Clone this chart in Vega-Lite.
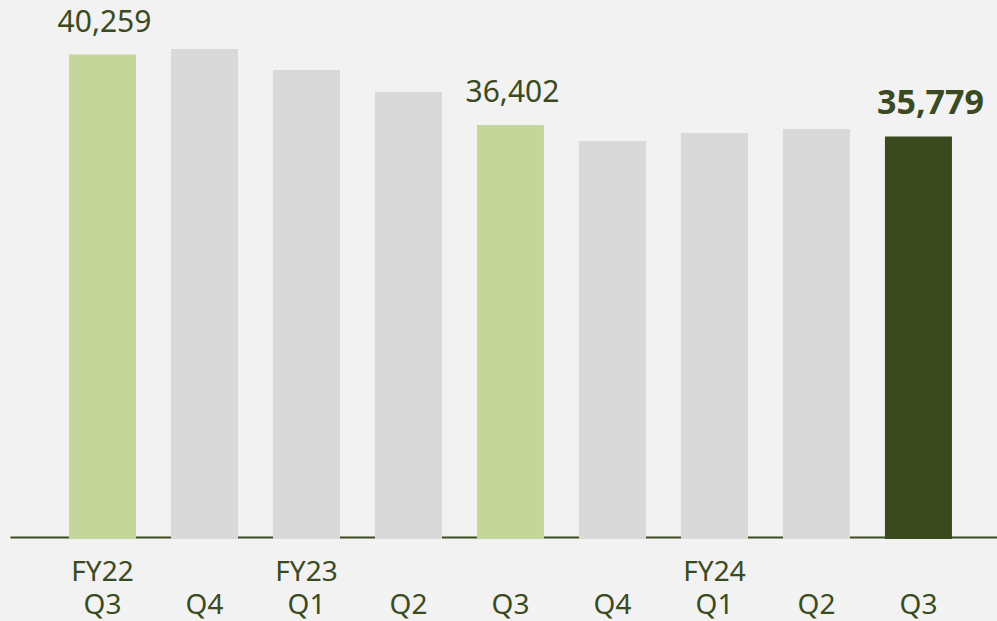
{
  "$schema": "https://vega.github.io/schema/vega-lite/v6.json",
  "width": 987,
  "height": 539,
  "autosize": {"type": "none"},
  "padding": {"left": 10, "top": 0, "right": 0, "bottom": 82},
  "background": "#f2f2f2",
  "config": {"view": {"stroke": null}},
  "data": {
    "values": [
      {"period": "FY22 Q3", "value": 40259, "group": "prior"},
      {"period": "FY22 Q4", "value": 40561, "group": "other"},
      {"period": "FY23 Q1", "value": 39412, "group": "other"},
      {"period": "FY23 Q2", "value": 38208, "group": "other"},
      {"period": "FY23 Q3", "value": 36402, "group": "prior"},
      {"period": "FY23 Q4", "value": 35527, "group": "other"},
      {"period": "FY24 Q1", "value": 35964, "group": "other"},
      {"period": "FY24 Q2", "value": 36183, "group": "other"},
      {"period": "FY24 Q3", "value": 35779, "group": "current"}
    ]
  },
  "encoding": {
    "x": {
      "field": "period",
      "type": "nominal",
      "sort": null,
      "scale": {"paddingInner": 0.343, "paddingOuter": 0.51, "align": 0.567},
      "axis": {
        "title": null,
        "orient": "bottom",
        "offset": -2,
        "domain": true,
        "domainColor": "#3b4a20",
        "domainWidth": 2,
        "ticks": false,
        "grid": false,
        "labelAngle": 0,
        "labelFont": "Noto Sans",
        "labelFontSize": 28,
        "labelColor": "#3b4a20",
        "labelPadding": 21,
        "labelLineHeight": 33,
        "labelBaseline": "top",
        "labelExpr": "[indexof(['FY22 Q3','FY23 Q1','FY24 Q1'], datum.value) >= 0 ? split(datum.value, ' ')[0] : ' ', split(datum.value, ' ')[1]]"
      }
    },
    "y": {
      "field": "value",
      "type": "quantitative",
      "scale": {"domain": [13748, 43242], "zero": false, "nice": false},
      "axis": null
    }
  },
  "layer": [
    {
      "mark": {"type": "bar"},
      "encoding": {
        "y2": {"datum": 13748},
        "color": {
          "field": "group",
          "type": "nominal",
          "scale": {"domain": ["prior", "other", "current"], "range": ["#c5d69b", "#d9d9d9", "#3a4a1e"]},
          "legend": null
        }
      }
    },
    {
      "transform": [{"filter": "datum.group === 'prior'"}],
      "mark": {"type": "text", "font": "Noto Sans", "fontSize": 30, "color": "#3b4a20", "baseline": "alphabetic", "dy": -23, "dx": 2},
      "encoding": {"text": {"field": "value", "type": "quantitative", "format": ",d"}}
    },
    {
      "transform": [{"filter": "datum.group === 'current'"}],
      "mark": {"type": "text", "font": "Noto Sans", "fontSize": 34, "fontWeight": "bold", "color": "#3b4a20", "baseline": "alphabetic", "dy": -22, "dx": 12},
      "encoding": {"text": {"field": "value", "type": "quantitative", "format": ",d"}}
    }
  ]
}
